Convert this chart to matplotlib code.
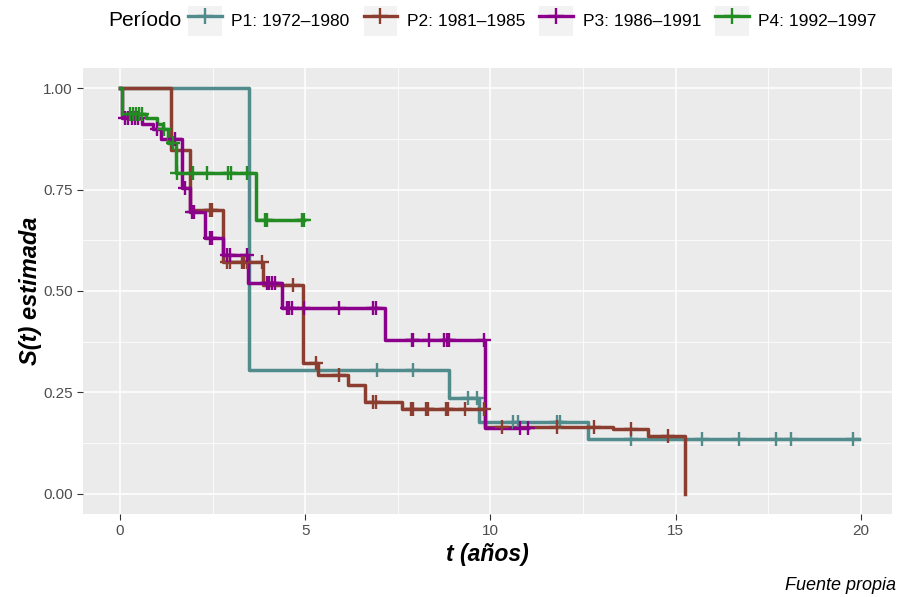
import numpy as np
import matplotlib

matplotlib.use("Agg")
import matplotlib.pyplot as plt
from matplotlib.lines import Line2D
from matplotlib.patches import Rectangle
from matplotlib.legend_handler import HandlerLine2D

plt.rcParams["font.family"] = ["Liberation Sans", "DejaVu Sans"]

# Curvas de Kaplan-Meier por periodo
labels = ["P1: 1972–1980", "P2: 1981–1985", "P3: 1986–1991", "P4: 1992–1997"]
colores = ["#528B8B", "#8B3E2F", "#8B008B", "#228B22"]

p1_eventos = [3.48, 8.87, 9.70, 12.62]
p1_surv = [0.305, 0.236, 0.177, 0.135]
p1_censura = [6.93, 7.90, 9.40, 9.63, 10.60, 10.75, 11.80, 11.88, 13.80, 15.70, 16.70,
              17.70, 18.10, 19.78]
p1_fin = 19.95

p2_eventos = [1.38, 1.89, 2.78, 3.86, 4.94, 5.35, 6.15, 6.60, 7.60, 9.85, 13.30, 14.25, 15.25]
p2_surv = [0.847, 0.700, 0.571, 0.515, 0.323, 0.293, 0.268, 0.227, 0.209, 0.165, 0.160,
           0.143, 0.0]
p2_censura = [2.43, 2.48, 2.90, 2.97, 3.30, 3.35, 3.43, 3.84, 4.67, 5.30, 5.90, 6.83, 6.90,
              7.85, 7.90, 8.26, 8.31, 8.80, 8.85, 9.30, 9.83, 10.30, 11.80, 12.80, 13.80, 14.80]
p2_fin = 15.25

p3_eventos = [0.04, 0.60, 0.90, 1.10, 1.67, 1.90, 2.30, 2.78, 3.46, 4.37, 7.15, 9.85]
p3_surv = [0.926, 0.913, 0.900, 0.876, 0.754, 0.695, 0.630, 0.589, 0.520, 0.458, 0.379, 0.163]
p3_censura = [0.14, 0.22, 0.32, 0.40, 0.49, 1.00, 1.48, 1.75, 1.94, 2.00, 2.43, 2.48, 2.88,
              2.97, 3.43, 3.96, 4.03, 4.10, 4.18, 4.50, 4.57, 4.63, 4.97, 5.90, 6.83, 6.90,
              7.87, 7.92, 8.35, 8.75, 8.82, 8.88, 9.83, 10.80, 11.00]
p3_fin = 11.00

p4_eventos = [0.05, 0.70, 1.00, 1.15, 1.30, 1.50, 3.67]
p4_surv = [0.936, 0.926, 0.912, 0.900, 0.866, 0.790, 0.676]
p4_censura = [0.27, 0.35, 0.44, 0.52, 0.60, 1.20, 1.42, 1.55, 1.97, 2.35, 2.92, 2.99, 3.43,
              3.92, 3.97, 4.90, 4.97]
p4_fin = 4.97

series = [
    (p1_eventos, p1_surv, p1_censura, p1_fin),
    (p2_eventos, p2_surv, p2_censura, p2_fin),
    (p3_eventos, p3_surv, p3_censura, p3_fin),
    (p4_eventos, p4_surv, p4_censura, p4_fin),
]

COLOR_PANEL = "#EBEBEB"
COLOR_TEXT = "#4D4D4D"


def valor_km(eventos, surv, t):
    """S(t) de la curva escalonada en los tiempos t."""
    idx = np.searchsorted(eventos, t, side="right") - 1
    s = np.concatenate([[1.0], surv])
    return s[idx + 1]


class CajaHandler(HandlerLine2D):
    """Clave de leyenda con fondo gris, al estilo ggplot."""

    def create_artists(self, legend, orig_handle, xdescent, ydescent, width, height, fontsize, trans):
        arts = super().create_artists(legend, orig_handle, xdescent, ydescent, width, height, fontsize, trans)
        fondo = Rectangle((-xdescent, -ydescent), width, height, facecolor="#F2F2F2",
                          edgecolor="none", transform=trans)
        return [fondo] + list(arts)


fig = plt.figure(figsize=(8.98, 5.97), dpi=100)
ax = fig.add_axes([83 / 898, 83 / 597, 809 / 898, 446 / 597])
ax.set_facecolor(COLOR_PANEL)

for (eventos, surv, censura, fin), color in zip(series, colores):
    xs = np.concatenate([[0.0], eventos, [fin]])
    ys = np.concatenate([[1.0], surv, [surv[-1]]])
    ax.step(xs, ys, where="post", color=color, linewidth=2.5, zorder=3)
    cens = np.array(censura)
    ax.plot(cens, valor_km(np.array(eventos), np.array(surv), cens), linestyle="none",
            marker="+", markersize=10, markeredgewidth=1.7, color=color, zorder=4)

ax.set_xlim(-1.0, 20.84)
ax.set_ylim(-0.05, 1.05)
ax.set_xticks([0, 5, 10, 15, 20])
ax.set_xticks([2.5, 7.5, 12.5, 17.5], minor=True)
ax.set_yticks([0, 0.25, 0.5, 0.75, 1.0])
ax.set_yticklabels(["0.00", "0.25", "0.50", "0.75", "1.00"])
ax.set_yticks([0.125, 0.375, 0.625, 0.875], minor=True)
ax.grid(which="major", color="white", linewidth=1.1, zorder=0)
ax.grid(which="minor", color="white", linewidth=0.55, zorder=0)
ax.set_axisbelow(True)
for s in ax.spines.values():
    s.set_visible(False)
ax.tick_params(axis="both", which="major", labelsize=11, colors="#333333", length=4, width=0.8,
               labelcolor=COLOR_TEXT)
ax.tick_params(axis="both", which="minor", length=0)

ax.set_xlabel("t (años)", fontsize=16.5, fontweight="bold", fontstyle="italic", labelpad=3)
ax.set_ylabel("S(t) estimada", fontsize=17, fontweight="bold", fontstyle="italic", labelpad=1)

handles = [Line2D([], [], color=c, linewidth=2.4, marker="+", markersize=12, markeredgewidth=1.7)
           for c in colores]
leg = fig.legend(handles, labels, loc="center left", bbox_to_anchor=(188 / 898, 1 - 21 / 597),
                 ncol=4, frameon=False, fontsize=12.5, handlelength=1.95, handleheight=2.2,
                 handletextpad=0.55, columnspacing=0.8, borderaxespad=0, borderpad=0,
                 handler_map={Line2D: CajaHandler()})
fig.text(181 / 898, 1 - 21 / 597, "Período", ha="right", va="center", fontsize=15)

fig.text(896 / 898, 1 - 585 / 597, "Fuente propia", ha="right", va="center", fontsize=13,
         fontstyle="italic")

fig.savefig("out.png", dpi=100, facecolor="white")
